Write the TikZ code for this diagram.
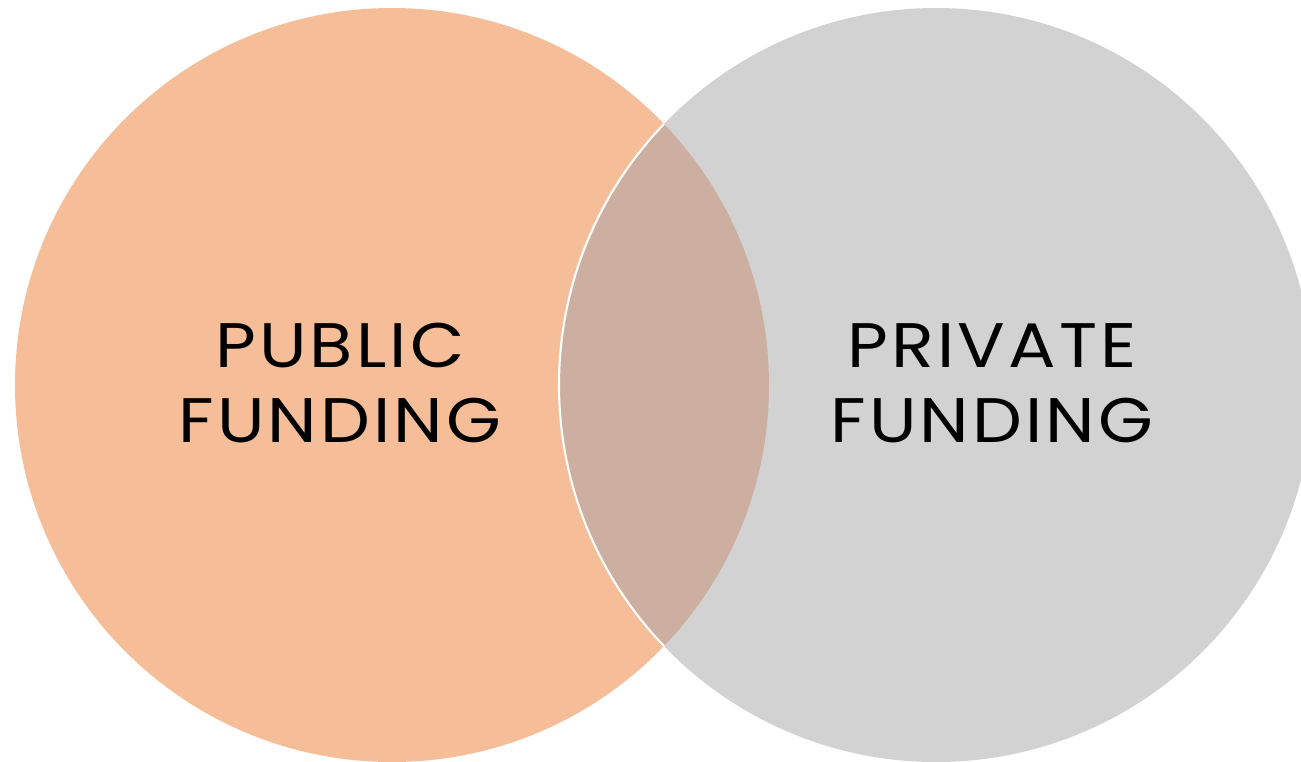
\documentclass[tikz,border=0pt]{standalone}
\usepackage{fontspec}
\setmainfont[FakeStretch=1.12,LetterSpace=5]{Poppins}
\definecolor{pubfill}{HTML}{F5BE99}
\definecolor{privfill}{HTML}{D2D2D2}
\definecolor{bothfill}{HTML}{CCAFA0}
\begin{document}
\begin{tikzpicture}[
  fundlabel/.style={align=center,inner sep=0pt,font=\fontsize{17.9}{21.3}\selectfont}]
\useasboundingbox (0,0) rectangle (13.01,7.61);
\fill[pubfill] (3.92,3.76) circle (3.77);
\fill[privfill] (9.36,3.76) circle (3.77);
\begin{scope}
\clip (3.92,3.76) circle (3.77);
\fill[bothfill] (9.36,3.76) circle (3.77);
\end{scope}
\begin{scope}
\clip (3.92,3.76) circle (3.77);
\draw[white,line width=0.6pt] (9.36,3.76) circle (3.77);
\end{scope}
\node[fundlabel,anchor=center] (public) at (3.40,3.78) {PUBLIC\\FUNDING};
\node[fundlabel,anchor=center] (private) at (9.92,3.78) {PRIVATE\\FUNDING};
\end{tikzpicture}
\end{document}
